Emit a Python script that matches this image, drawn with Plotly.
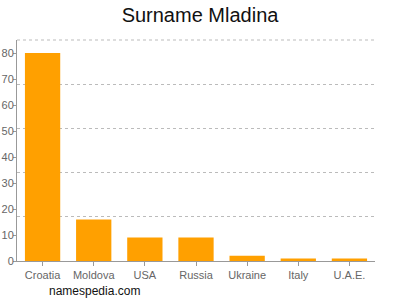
import plotly.graph_objects as go

countries = ["Croatia", "Moldova", "USA", "Russia", "Ukraine", "Italy", "U.A.E."]
values = [80, 16, 9, 9, 2, 1, 1]
y_ticks = [0, 10, 20, 30, 40, 50, 60, 70, 80]
y_max = 85
grid_step = 17

L, R, T, B, W, H = 17, 25, 40, 39, 400, 300

fig = go.Figure()
fig.add_trace(go.Bar(x=countries, y=values, marker_color="#ffa000",
                     marker_line_width=0, hoverinfo="x+y"))
fig.add_trace(go.Scatter(x=countries, y=values, mode="markers",
                         marker=dict(opacity=0), yaxis="y2", hoverinfo="skip",
                         showlegend=False))

font_family = "Liberation Sans, Arial, sans-serif"
fig.update_layout(
    width=W, height=H,
    margin=dict(l=L, r=R, t=T, b=B),
    paper_bgcolor="white", plot_bgcolor="white",
    showlegend=False,
    bargap=0.31,
    title=dict(text="Surname Mladina", x=0.5, xanchor="center", y=1 - 15 / H, yanchor="middle",
               font=dict(family=font_family, size=20, color="#111")),
    font=dict(family=font_family, size=11, color="#666"),
    xaxis=dict(showline=True, linecolor="#999", linewidth=1, ticks="outside",
               ticklen=4, tickcolor="#999", showgrid=False, automargin=False,
               tickfont=dict(size=11, color="#666")),
    yaxis=dict(range=[0, y_max], tick0=0, dtick=grid_step, showticklabels=False,
               showgrid=True, gridcolor="#bbb", griddash="3px,3px", gridwidth=1,
               zeroline=False, showline=False, ticks="", automargin=False),
    yaxis2=dict(range=[0, y_max], overlaying="y", side="left", tickvals=y_ticks,
                showgrid=False, zeroline=False, showline=True, linecolor="#999",
                linewidth=1, ticks="outside", ticklen=3, tickcolor="#999",
                ticklabelstandoff=-3,
                automargin=False, tickfont=dict(size=11, color="#666")),
    shapes=[dict(type="line", xref="paper", yref="paper", x0=0, x1=1, y0=1, y1=1,
                 line=dict(color="#bbb", width=1, dash="3px,3px"))],
    annotations=[dict(text="namespedia.com", x=(47 - L) / (W - L - R),
                      y=-(291 - (H - B)) / (H - T - B), xref="paper", yref="paper",
                      xanchor="left", yanchor="middle", showarrow=False,
                      font=dict(family=font_family, size=12, color="#111"))],
)

fig.write_html("out.html")
